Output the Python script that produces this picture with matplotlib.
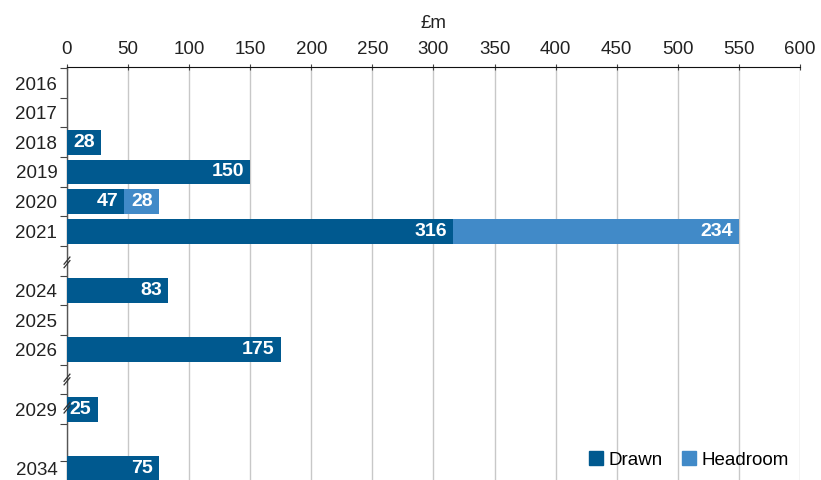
import matplotlib
matplotlib.use("Agg")
import matplotlib.pyplot as plt
import matplotlib.transforms as mtransforms
from matplotlib.patches import Patch

plt.rcParams["font.family"] = ["Liberation Sans", "DejaVu Sans"]

# data
years = ["2016", "2017", "2018", "2019", "2020", "2021", "2024", "2025", "2026", "2029", "2034"]
rows = [0, 1, 2, 3, 4, 5, 7, 8, 9, 11, 13]
drawn = [0, 0, 28, 150, 47, 316, 83, 0, 175, 25, 75]
headroom = [0, 0, 0, 0, 28, 234, 0, 0, 0, 0, 0]
row_edges = [-0.5, 0.5, 1.5, 2.5, 3.5, 4.5, 5.5, 6.5, 7.5, 8.5, 9.5, 10.5, 11.5, 12.75]
breaks = [6.05, 10.0, 10.95]

DRAWN = "#00598f"
HEAD = "#418ac8"

fig = plt.figure(figsize=(8.21, 4.8), dpi=100)
ax = fig.add_axes([0.0816, 0.0, 0.8928, 0.8604])

bh = 0.84
ax.barh(rows, drawn, height=bh, color=DRAWN, zorder=3)
ax.barh(rows, headroom, left=drawn, height=bh, color=HEAD, zorder=3)

for y, d, h in zip(rows, drawn, headroom):
    if d:
        ax.text(d - 5, y, str(d), ha="right", va="center", color="white",
                fontsize=14, fontweight="bold", zorder=4)
    if h:
        ax.text(d + h - 5, y, str(h), ha="right", va="center", color="white",
                fontsize=14, fontweight="bold", zorder=4)

ax.set_xlim(0, 600)
ax.set_ylim(13.39, -0.54)
ax.set_xticks(range(0, 601, 50))
ax.xaxis.tick_top()
ax.xaxis.set_label_position("top")
ax.set_xlabel("£m", fontsize=13.5, color="#222222", labelpad=9)
ax.tick_params(axis="x", direction="inout", length=5, width=0.8, colors="#444444",
               labelcolor="#222222", labelsize=13.5, pad=4)

ax.set_yticks(rows)
ax.set_yticklabels(years)
ax.set_yticks(row_edges, minor=True)
ax.tick_params(axis="y", which="major", length=0, labelsize=13.5, labelcolor="#222222", pad=7)
ax.tick_params(axis="y", which="minor", length=5, width=0.8, color="#444444")

ax.grid(axis="x", color="#c8c8c8", linewidth=1.0, zorder=0)
for s in ["right", "bottom"]:
    ax.spines[s].set_visible(False)
ax.spines["top"].set_color("#111111")
ax.spines["left"].set_color("#555555")
ax.spines["left"].set_linewidth(1.0)

# axis break marks
trans = mtransforms.blended_transform_factory(ax.transAxes, ax.transData)
for b in breaks:
    for off in (-0.06, 0.06):
        ax.plot([-0.004, 0.004], [b + off + 0.12, b + off - 0.12], color="#333333",
                linewidth=0.9, transform=trans, clip_on=False, zorder=5)

handles = [Patch(color=DRAWN, label="Drawn"), Patch(color=HEAD, label="Headroom")]
ax.legend(handles=handles, loc="lower right", ncol=2, frameon=False, fontsize=13.5,
          handlelength=0.75, handleheight=0.75, handletextpad=0.3, columnspacing=1.0,
          borderaxespad=0.2, bbox_to_anchor=(1.0, 0.0))

fig.savefig("out.png", dpi=100)
